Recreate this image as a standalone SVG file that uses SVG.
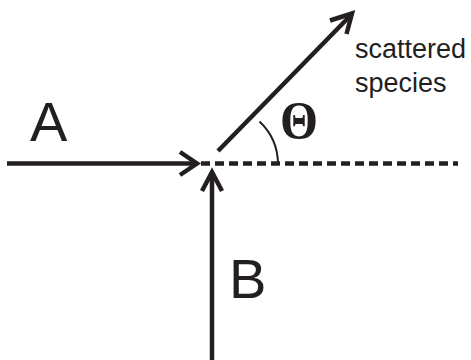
<svg xmlns="http://www.w3.org/2000/svg" width="471" height="360" viewBox="0 0 471 360">
<style>
.ln{stroke:#231f20;stroke-width:4.5;fill:none}
.hd{stroke:#231f20;stroke-width:4.5;fill:none;stroke-linecap:butt;stroke-linejoin:miter}
.lbl{font-family:"Liberation Sans",Arial,sans-serif;fill:#231f20}
</style>
<rect width="471" height="360" fill="#fff"/>
<g id="connectors">
<line id="lineA" class="ln" x1="7" y1="163.5" x2="196" y2="163.5"/>
<polyline class="hd" points="180,152 197,163.5 180,175"/>
<line id="lineB" class="ln" x1="212" y1="360" x2="212" y2="173"/>
<polyline class="hd" points="202,191 212,172 222,191"/>
<line id="scatter" class="ln" x1="218" y1="151" x2="351" y2="15"/>
<polyline class="hd" points="330,20.5 352,13.5 346.5,34"/>
<line id="dashed" x1="201" y1="163.5" x2="458" y2="163.5" stroke="#231f20" stroke-width="4.5" stroke-dasharray="9 5"/>
<path id="angle" d="M259.5,121.5 A59,59 0 0 1 278,163.5" fill="none" stroke="#231f20" stroke-width="2"/>
</g>
<g id="labelA"><text class="lbl" x="30" y="141" font-size="56">A</text></g>
<g id="labelB"><text class="lbl" x="229" y="298" font-size="56">B</text></g>
<g id="theta"><text x="299" y="138" font-size="52" font-weight="bold" text-anchor="middle" textLength="38" lengthAdjust="spacingAndGlyphs" font-family="'Liberation Serif','Times New Roman',serif" fill="#231f20">Θ</text></g>
<g id="scattered"><text class="lbl" font-size="27"><tspan x="355" y="58">scattered</tspan><tspan x="355" y="92">species</tspan></text></g>
</svg>
